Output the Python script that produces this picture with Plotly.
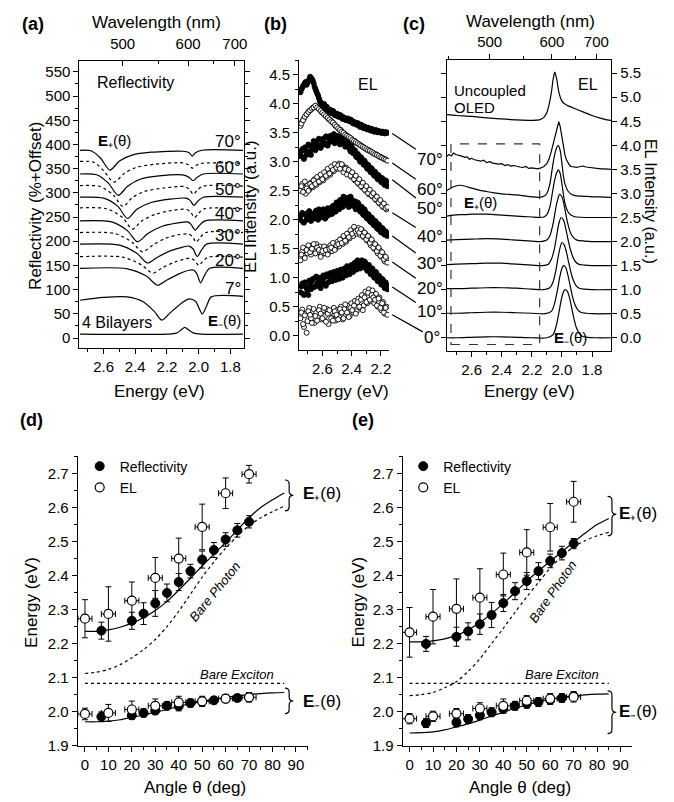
import plotly.graph_objects as go

# ======================= DATA =======================
# ---- panel (a): reflectivity spectra (energy eV, reflectivity %+offset) ----
refl_label_angles = [70, 60, 50, 40, 30, 20, 7]
r70_E = [2.75, 2.68, 2.62, 2.56, 2.50, 2.42, 2.30, 2.10, 2.06, 2.04, 2.02, 1.98, 1.72]
r70_R = [388, 387, 372, 347, 366, 378, 384, 386, 383, 376, 383, 388, 388]
r65_E = [2.75, 2.66, 2.60, 2.535, 2.47, 2.40, 2.28, 2.10, 2.065, 2.04, 2.015, 1.98, 1.72]
r65_R = [365, 363, 346, 322, 340, 352, 359, 362, 358, 351, 357, 361, 361]
r60_E = [2.75, 2.64, 2.57, 2.508, 2.45, 2.37, 2.25, 2.10, 2.065, 2.034, 2.01, 1.97, 1.72]
r60_R = [339, 337, 320, 295, 313, 328, 335, 337, 333, 325, 332, 339, 339]
r55_E = [2.75, 2.62, 2.54, 2.478, 2.42, 2.34, 2.22, 2.09, 2.06, 2.033, 2.008, 1.97, 1.72]
r55_R = [315, 313, 296, 272, 290, 303, 310, 313, 308, 297, 306, 314, 314]
r50_E = [2.75, 2.60, 2.51, 2.449, 2.39, 2.30, 2.18, 2.08, 2.055, 2.03, 2.005, 1.97, 1.72]
r50_R = [291, 289, 272, 247, 266, 280, 287, 289, 285, 274, 283, 291, 291]
r45_E = [2.75, 2.58, 2.48, 2.418, 2.36, 2.27, 2.16, 2.08, 2.052, 2.026, 2.0, 1.965, 1.72]
r45_R = [269, 267, 249, 225, 242, 256, 264, 266, 261, 249, 258, 267, 267]
r40_E = [2.75, 2.55, 2.45, 2.386, 2.32, 2.23, 2.13, 2.07, 2.048, 2.022, 1.997, 1.96, 1.72]
r40_R = [242, 240, 222, 199, 216, 231, 238, 240, 235, 223, 232, 242, 242]
r35_E = [2.75, 2.53, 2.42, 2.355, 2.29, 2.21, 2.12, 2.065, 2.04, 2.015, 1.99, 1.955, 1.72]
r35_R = [218, 216, 198, 178, 192, 206, 214, 215, 210, 198, 208, 218, 218]
r30_E = [2.75, 2.50, 2.39, 2.323, 2.26, 2.18, 2.10, 2.06, 2.035, 2.009, 1.985, 1.95, 1.72]
r30_R = [194, 192, 175, 155, 167, 180, 188, 190, 184, 168, 180, 194, 194]
r25_E = [2.75, 2.48, 2.36, 2.29, 2.23, 2.15, 2.08, 2.05, 2.025, 1.999, 1.975, 1.94, 1.72]
r25_R = [168, 167, 151, 134, 145, 157, 164, 165, 160, 150, 158, 167, 167]
r20_E = [2.75, 2.45, 2.33, 2.26, 2.20, 2.12, 2.06, 2.03, 2.01, 1.988, 1.965, 1.93, 1.72]
r20_R = [144, 143, 128, 109, 120, 133, 140, 140, 132, 114, 128, 144, 144]
r7_E = [2.75, 2.60, 2.45, 2.35, 2.28, 2.232, 2.18, 2.10, 2.06, 2.02, 1.977, 1.95, 1.92, 1.72]
r7_R = [78, 84, 85, 75, 55, 37, 52, 74, 81, 76, 50, 66, 85, 86]
bare_E = [2.75, 2.20, 2.14, 2.11, 2.087, 2.065, 2.03, 1.98, 1.72]
bare_R = [8, 8, 10, 17, 22, 17, 10, 8, 8]

wavelength_ticks = [500, 600, 700]
wavelength_minor = [450, 550, 650]

# ---- panel (b): EL intensity, noisy spectra (two interleaved sample rows) ----
b_energy = [2.750, 2.738, 2.726, 2.714, 2.702, 2.690, 2.678, 2.666, 2.654, 2.642,
            2.630, 2.618, 2.606, 2.594, 2.582, 2.570, 2.558, 2.546, 2.534, 2.522,
            2.510, 2.498, 2.486, 2.474, 2.462, 2.450, 2.438, 2.426, 2.414, 2.402,
            2.390, 2.378, 2.366, 2.354, 2.342, 2.330, 2.318, 2.306, 2.294, 2.282,
            2.270, 2.258, 2.246, 2.234, 2.222, 2.210, 2.198, 2.186, 2.174, 2.162]
b_energy2 = [2.744, 2.732, 2.720, 2.708, 2.696, 2.684, 2.672, 2.660, 2.648, 2.636,
             2.624, 2.612, 2.600, 2.588, 2.576, 2.564, 2.552, 2.540, 2.528, 2.516,
             2.504, 2.492, 2.480, 2.468, 2.456, 2.444, 2.432, 2.420, 2.408, 2.396,
             2.384, 2.372, 2.360, 2.348, 2.336, 2.324, 2.312, 2.300, 2.288, 2.276,
             2.264, 2.252, 2.240, 2.228, 2.216, 2.204, 2.192, 2.180, 2.168, 2.156]
b70 = [4.20, 4.28, 4.33, 4.38, 4.36, 4.42, 4.45, 4.40, 4.30, 4.22,
       4.15, 4.05, 4.00, 3.98, 3.93, 3.95, 3.88, 3.90, 3.85, 3.86,
       3.80, 3.83, 3.78, 3.80, 3.74, 3.76, 3.72, 3.75, 3.70, 3.72,
       3.66, 3.68, 3.64, 3.66, 3.60, 3.63, 3.58, 3.60, 3.56, 3.58,
       3.54, 3.56, 3.52, 3.55, 3.51, 3.53, 3.50, 3.52, 3.49, 3.51]
b70_2 = [4.25, 4.31, 4.36, 4.33, 4.40, 4.47, 4.43, 4.36, 4.26, 4.18,
         4.10, 4.03, 3.97, 4.00, 3.91, 3.90, 3.86, 3.84, 3.88, 3.81,
         3.82, 3.78, 3.81, 3.76, 3.77, 3.73, 3.74, 3.71, 3.73, 3.68,
         3.69, 3.65, 3.67, 3.62, 3.64, 3.60, 3.61, 3.57, 3.59, 3.55,
         3.57, 3.53, 3.54, 3.52, 3.53, 3.51, 3.52, 3.50, 3.51, 3.50]
b60 = [3.62, 3.70, 3.75, 3.80, 3.84, 3.88, 3.90, 3.93, 3.95, 3.96,
       3.93, 3.90, 3.86, 3.84, 3.80, 3.78, 3.74, 3.72, 3.69, 3.66,
       3.62, 3.60, 3.56, 3.55, 3.50, 3.49, 3.46, 3.44, 3.42, 3.40,
       3.37, 3.36, 3.33, 3.31, 3.29, 3.27, 3.25, 3.23, 3.21, 3.20,
       3.18, 3.16, 3.14, 3.13, 3.11, 3.09, 3.08, 3.06, 3.05, 3.03]
b60_2 = [3.66, 3.72, 3.78, 3.82, 3.86, 3.89, 3.92, 3.94, 3.97, 3.94,
         3.91, 3.88, 3.85, 3.82, 3.79, 3.76, 3.73, 3.70, 3.68, 3.64,
         3.61, 3.58, 3.55, 3.52, 3.50, 3.47, 3.45, 3.43, 3.41, 3.38,
         3.36, 3.34, 3.32, 3.30, 3.28, 3.26, 3.24, 3.22, 3.20, 3.19,
         3.17, 3.15, 3.13, 3.12, 3.10, 3.08, 3.07, 3.05, 3.04, 3.02]
b50 = [3.10, 3.22, 3.05, 3.20, 3.15, 3.28, 3.12, 3.30, 3.22, 3.35,
       3.25, 3.38, 3.28, 3.40, 3.30, 3.42, 3.33, 3.45, 3.35, 3.48,
       3.38, 3.45, 3.36, 3.44, 3.33, 3.40, 3.28, 3.35, 3.22, 3.28,
       3.15, 3.20, 3.08, 3.12, 3.00, 3.05, 2.95, 2.98, 2.88, 2.92,
       2.82, 2.86, 2.76, 2.80, 2.70, 2.74, 2.65, 2.70, 2.60, 2.66]
b50_2 = [3.18, 3.08, 3.25, 3.12, 3.30, 3.18, 3.26, 3.36, 3.20, 3.30,
         3.40, 3.24, 3.36, 3.32, 3.44, 3.28, 3.40, 3.38, 3.46, 3.32,
         3.42, 3.40, 3.30, 3.38, 3.36, 3.26, 3.32, 3.30, 3.18, 3.24,
         3.18, 3.10, 3.14, 3.04, 3.08, 2.98, 3.02, 2.92, 2.95, 2.85,
         2.89, 2.79, 2.83, 2.73, 2.77, 2.68, 2.72, 2.62, 2.68, 2.58]
b40 = [2.50, 2.62, 2.55, 2.45, 2.60, 2.52, 2.64, 2.56, 2.70, 2.60,
       2.72, 2.65, 2.75, 2.68, 2.80, 2.74, 2.85, 2.78, 2.90, 2.84,
       2.95, 2.88, 2.97, 2.90, 2.94, 2.86, 2.90, 2.80, 2.84, 2.74,
       2.78, 2.68, 2.72, 2.62, 2.66, 2.56, 2.60, 2.50, 2.54, 2.44,
       2.48, 2.40, 2.42, 2.34, 2.36, 2.28, 2.30, 2.22, 2.24, 2.18]
b40_2 = [2.58, 2.48, 2.66, 2.54, 2.50, 2.62, 2.58, 2.68, 2.62, 2.74,
         2.66, 2.78, 2.70, 2.82, 2.76, 2.88, 2.80, 2.92, 2.86, 2.96,
         2.90, 2.94, 2.88, 2.96, 2.82, 2.88, 2.78, 2.86, 2.76, 2.82,
         2.70, 2.76, 2.64, 2.70, 2.58, 2.64, 2.52, 2.58, 2.46, 2.52,
         2.42, 2.46, 2.36, 2.40, 2.30, 2.34, 2.24, 2.28, 2.20, 2.22]
b30 = [2.00, 2.12, 1.95, 2.08, 2.02, 2.15, 1.98, 2.10, 2.04, 2.16,
       2.00, 2.12, 2.06, 2.18, 2.02, 2.14, 2.08, 2.20, 2.10, 2.24,
       2.14, 2.28, 2.18, 2.32, 2.22, 2.36, 2.26, 2.38, 2.28, 2.36,
       2.24, 2.32, 2.20, 2.28, 2.14, 2.22, 2.08, 2.14, 2.02, 2.08,
       1.96, 2.02, 1.90, 1.96, 1.84, 1.90, 1.78, 1.84, 1.74, 1.78]
b30_2 = [2.08, 1.96, 2.10, 2.00, 2.12, 2.04, 2.08, 2.02, 2.14, 2.06,
         2.18, 2.04, 2.16, 2.10, 2.04, 2.20, 2.12, 2.16, 2.24, 2.18,
         2.30, 2.20, 2.34, 2.24, 2.40, 2.30, 2.34, 2.22, 2.40, 2.30,
         2.28, 2.18, 2.30, 2.24, 2.18, 2.10, 2.18, 2.04, 2.10, 1.98,
         2.04, 1.92, 1.98, 1.86, 1.92, 1.80, 1.86, 1.76, 1.80, 1.72]
b20 = [1.30, 1.45, 1.38, 1.50, 1.42, 1.55, 1.40, 1.52, 1.46, 1.58,
       1.44, 1.54, 1.40, 1.50, 1.42, 1.52, 1.44, 1.56, 1.46, 1.58,
       1.50, 1.62, 1.54, 1.66, 1.58, 1.70, 1.62, 1.74, 1.68, 1.80,
       1.72, 1.84, 1.76, 1.86, 1.74, 1.82, 1.70, 1.76, 1.64, 1.70,
       1.56, 1.62, 1.50, 1.56, 1.42, 1.48, 1.36, 1.40, 1.28, 1.32]
b20_2 = [1.40, 1.52, 1.34, 1.48, 1.56, 1.44, 1.50, 1.58, 1.42, 1.52,
         1.48, 1.36, 1.46, 1.54, 1.48, 1.40, 1.50, 1.52, 1.60, 1.48,
         1.56, 1.58, 1.66, 1.60, 1.72, 1.64, 1.76, 1.70, 1.82, 1.76,
         1.88, 1.80, 1.82, 1.78, 1.84, 1.72, 1.78, 1.66, 1.72, 1.60,
         1.66, 1.52, 1.58, 1.46, 1.52, 1.38, 1.44, 1.32, 1.36, 1.26]
b10 = [0.75, 0.90, 0.70, 0.85, 0.78, 0.95, 0.80, 0.98, 0.84, 1.02,
       0.86, 1.00, 0.88, 1.04, 0.90, 1.06, 0.92, 1.08, 0.94, 1.10,
       0.96, 1.12, 0.98, 1.14, 1.00, 1.16, 1.04, 1.18, 1.06, 1.22,
       1.10, 1.26, 1.14, 1.28, 1.16, 1.30, 1.18, 1.26, 1.12, 1.22,
       1.06, 1.16, 1.00, 1.10, 0.94, 1.02, 0.88, 0.96, 0.82, 0.88]
b10_2 = [0.85, 0.72, 0.92, 0.82, 0.70, 0.88, 0.94, 0.84, 1.00, 0.90,
         0.96, 0.82, 0.96, 1.00, 0.86, 1.02, 1.04, 0.96, 1.06, 1.00,
         1.08, 1.04, 1.10, 1.02, 1.12, 1.10, 1.20, 1.08, 1.16, 1.14,
         1.24, 1.20, 1.30, 1.20, 1.24, 1.22, 1.28, 1.16, 1.20, 1.10,
         1.14, 1.04, 1.08, 0.98, 1.04, 0.92, 0.98, 0.86, 0.92, 0.80]
b0 = [0.30, 0.45, 0.15, 0.38, 0.25, 0.48, 0.30, 0.42, 0.22, 0.40,
      0.32, 0.50, 0.28, 0.44, 0.34, 0.46, 0.20, 0.40, 0.30, 0.48,
      0.26, 0.44, 0.32, 0.50, 0.28, 0.46, 0.36, 0.52, 0.34, 0.56,
      0.40, 0.60, 0.42, 0.64, 0.48, 0.70, 0.52, 0.76, 0.56, 0.80,
      0.60, 0.78, 0.56, 0.72, 0.50, 0.66, 0.44, 0.58, 0.38, 0.50]
b0_2 = [0.40, 0.20, 0.35, 0.05, 0.42, 0.36, 0.22, 0.46, 0.34, 0.26,
        0.44, 0.38, 0.30, 0.48, 0.24, 0.38, 0.44, 0.30, 0.26, 0.42,
        0.36, 0.28, 0.46, 0.40, 0.30, 0.54, 0.40, 0.32, 0.48, 0.44,
        0.52, 0.38, 0.58, 0.50, 0.62, 0.44, 0.66, 0.58, 0.74, 0.62,
        0.70, 0.66, 0.62, 0.52, 0.64, 0.48, 0.56, 0.40, 0.48, 0.36]
b_angles = [0, 10, 20, 30, 40, 50, 60, 70]
b_line_start = [0.36, 0.84, 1.27, 1.72, 2.12, 2.69, 2.98, 3.49]

# ---- panel (c): EL spectra (offset) ----
unc_E = [2.765, 2.70, 2.60, 2.50, 2.40, 2.30, 2.20, 2.15, 2.12, 2.10,
         2.085, 2.07, 2.058, 2.047, 2.035, 2.02, 2.005, 1.99, 1.97, 1.95,
         1.92, 1.88, 1.84, 1.80, 1.75, 1.70, 1.672]
unc_I = [4.64, 4.62, 4.60, 4.57, 4.55, 4.53, 4.52, 4.53, 4.58, 4.68,
         4.85, 5.10, 5.38, 5.52, 5.38, 5.10, 4.95, 4.88, 4.84, 4.81,
         4.77, 4.72, 4.67, 4.62, 4.57, 4.53, 4.52]
c70_E = [2.765, 2.75, 2.735, 2.72, 2.705, 2.69, 2.675, 2.66, 2.645, 2.63,
         2.615, 2.60, 2.58, 2.56, 2.54, 2.52, 2.50, 2.48, 2.46, 2.44,
         2.42, 2.40, 2.38, 2.36, 2.34, 2.32, 2.30, 2.28, 2.26, 2.24,
         2.22, 2.20, 2.18, 2.16, 2.14, 2.12, 2.10, 2.085, 2.07, 2.055,
         2.04, 2.03, 2.021, 2.012, 2.0, 1.99, 1.98, 1.97, 1.96, 1.95,
         1.94, 1.92, 1.90, 1.88, 1.86, 1.84, 1.82, 1.80, 1.78, 1.76,
         1.74, 1.72, 1.70, 1.672]
c70_I = [3.77, 3.81, 3.78, 3.84, 3.81, 3.80, 3.78, 3.77, 3.75, 3.76,
         3.71, 3.73, 3.70, 3.69, 3.67, 3.69, 3.64, 3.66, 3.63, 3.62,
         3.61, 3.62, 3.58, 3.60, 3.57, 3.58, 3.56, 3.55, 3.54, 3.56,
         3.52, 3.53, 3.52, 3.51, 3.53, 3.56, 3.62, 3.72, 3.88, 4.08,
         4.28, 4.42, 4.49, 4.40, 4.15, 3.95, 3.80, 3.70, 3.63, 3.59,
         3.56, 3.55, 3.54, 3.56, 3.57, 3.55, 3.54, 3.53, 3.52, 3.52,
         3.51, 3.51, 3.50, 3.50]
c_hi_E = [2.765, 2.72, 2.68, 2.64, 2.60, 2.55, 2.50, 2.45, 2.40, 2.35,
          2.30, 2.25, 2.20, 2.15, 2.12, 2.10, 2.08, 2.065, 2.05, 2.035,
          2.024, 2.012, 2.0, 1.99, 1.98, 1.96, 1.94, 1.92, 1.90, 1.85,
          1.80, 1.75, 1.672]
c60_I = [3.06, 3.14, 3.17, 3.15, 3.11, 3.07, 3.04, 3.01, 2.99, 2.98,
         2.97, 2.95, 2.93, 2.92, 2.94, 3.00, 3.20, 3.50, 3.78, 3.95,
         4.00, 3.90, 3.62, 3.36, 3.20, 3.05, 2.99, 2.96, 2.95, 2.94,
         2.93, 2.93, 2.92]
c50_I = [2.53, 2.55, 2.56, 2.56, 2.57, 2.57, 2.57, 2.56, 2.55, 2.54,
         2.53, 2.52, 2.51, 2.50, 2.51, 2.56, 2.72, 2.98, 3.25, 3.43,
         3.49, 3.42, 3.20, 2.98, 2.80, 2.62, 2.55, 2.52, 2.51, 2.50,
         2.50, 2.50, 2.50]
c40_E = [2.765, 2.70, 2.60, 2.50, 2.40, 2.30, 2.20, 2.14, 2.10, 2.08, 2.06, 2.045,
         2.03, 2.015, 2.0, 1.985, 1.97, 1.955, 1.94, 1.92, 1.90, 1.85, 1.80, 1.672]
c40_I = [2.03, 2.04, 2.05, 2.06, 2.05, 2.03, 2.01, 2.00, 2.03, 2.12, 2.35, 2.62,
         2.85, 2.98, 2.93, 2.75, 2.50, 2.30, 2.16, 2.07, 2.03, 2.01, 2.00, 2.00]
c30_E = [2.765, 2.70, 2.60, 2.50, 2.40, 2.30, 2.20, 2.13, 2.09, 2.07, 2.05, 2.035,
         2.02, 2.005, 1.99, 1.975, 1.96, 1.945, 1.93, 1.91, 1.89, 1.85, 1.80, 1.672]
c30_I = [1.52, 1.53, 1.54, 1.55, 1.55, 1.53, 1.51, 1.50, 1.53, 1.63, 1.85, 2.12,
         2.38, 2.50, 2.45, 2.28, 2.05, 1.85, 1.70, 1.58, 1.53, 1.51, 1.50, 1.50]
c20_E = [2.765, 2.70, 2.60, 2.50, 2.40, 2.30, 2.20, 2.12, 2.08, 2.06, 2.04, 2.025,
         2.01, 2.0, 1.985, 1.97, 1.955, 1.94, 1.925, 1.905, 1.885, 1.85, 1.80, 1.672]
c20_I = [1.02, 1.02, 1.03, 1.04, 1.04, 1.03, 1.01, 1.00, 1.04, 1.15, 1.40, 1.68,
         1.90, 1.98, 1.93, 1.78, 1.56, 1.36, 1.20, 1.08, 1.03, 1.01, 1.00, 1.00]
c10_E = [2.765, 2.70, 2.60, 2.50, 2.40, 2.30, 2.20, 2.11, 2.07, 2.05, 2.03, 2.015,
         2.0, 1.99, 1.975, 1.96, 1.945, 1.93, 1.915, 1.895, 1.875, 1.84, 1.80, 1.672]
c10_I = [0.51, 0.51, 0.52, 0.53, 0.53, 0.52, 0.51, 0.50, 0.55, 0.70, 0.98, 1.25,
         1.44, 1.50, 1.46, 1.30, 1.08, 0.86, 0.70, 0.58, 0.53, 0.51, 0.50, 0.50]
c0_E = [2.765, 2.70, 2.60, 2.50, 2.40, 2.30, 2.20, 2.10, 2.06, 2.04, 2.02, 2.005,
        1.99, 1.98, 1.965, 1.95, 1.935, 1.92, 1.905, 1.885, 1.865, 1.83, 1.78, 1.672]
c0_I = [0.00, 0.00, 0.01, 0.02, 0.02, 0.01, 0.00, 0.00, 0.06, 0.22, 0.52, 0.78,
        0.95, 1.00, 0.97, 0.84, 0.62, 0.40, 0.22, 0.09, 0.03, 0.01, 0.00, 0.00]
c_box_E = [2.737, 2.148]
c_box_I = [-0.14, 4.03]

# ---- panels (d), (e): dispersion ----
refl_angles = [7, 20, 25, 30, 35, 40, 45, 50, 55, 60, 65, 70]
el_angles = [0, 10, 20, 30, 40, 50, 60, 70]
el_angle_err = [3, 3, 3, 3, 3, 3, 3, 3]
fit_angles = [0, 5, 10, 15, 20, 25, 30, 35, 40, 45, 50, 55, 60, 65, 70, 75, 80, 85]
exciton_angles = [0, 85]

d_refl_up = [2.238, 2.267, 2.288, 2.318, 2.349, 2.381, 2.413, 2.447, 2.475, 2.506, 2.533, 2.558]
d_refl_up_err = [0.025, 0.025, 0.032, 0.038, 0.026, 0.025, 0.020, 0.025, 0.022, 0.020, 0.020, 0.018]
d_refl_lo = [1.985, 1.989, 1.996, 2.003, 2.017, 2.016, 2.025, 2.030, 2.033, 2.038, 2.040, 2.043]
d_refl_lo_err = [0.014, 0.012, 0.012, 0.012, 0.012, 0.014, 0.012, 0.012, 0.010, 0.010, 0.010, 0.012]
d_el_up = [2.273, 2.287, 2.326, 2.393, 2.450, 2.543, 2.642, 2.698]
d_el_up_err = [0.056, 0.080, 0.055, 0.060, 0.060, 0.067, 0.045, 0.026]
d_el_lo = [1.993, 1.996, 2.006, 2.017, 2.027, 2.030, 2.038, 2.042]
d_el_lo_err = [0.017, 0.025, 0.025, 0.020, 0.018, 0.015, 0.012, 0.014]
d_fit_up = [2.236, 2.236, 2.240, 2.248, 2.260, 2.276, 2.297, 2.324, 2.357, 2.392,
            2.428, 2.463, 2.497, 2.534, 2.570, 2.600, 2.623, 2.643]
d_fit_lo = [1.970, 1.970, 1.972, 1.976, 1.983, 1.990, 1.998, 2.006, 2.015, 2.023,
            2.030, 2.036, 2.042, 2.046, 2.050, 2.053, 2.055, 2.056]
d_photon = [2.112, 2.116, 2.124, 2.138, 2.158, 2.182, 2.212, 2.250, 2.295, 2.345,
            2.395, 2.440, 2.480, 2.516, 2.547, 2.570, 2.588, 2.604]
d_exciton = [2.083, 2.083]

e_refl_up = [2.199, 2.220, 2.236, 2.257, 2.284, 2.319, 2.354, 2.384, 2.413, 2.443, 2.466, 2.494]
e_refl_up_err = [0.022, 0.028, 0.025, 0.030, 0.037, 0.025, 0.025, 0.025, 0.025, 0.020, 0.020, 0.015]
e_refl_lo = [1.966, 1.968, 1.978, 1.989, 1.998, 2.008, 2.017, 2.023, 2.028, 2.034, 2.040, 2.045]
e_refl_lo_err = [0.013, 0.013, 0.013, 0.013, 0.013, 0.013, 0.013, 0.013, 0.013, 0.013, 0.013, 0.013]
e_el_up = [2.233, 2.279, 2.302, 2.335, 2.403, 2.468, 2.542, 2.617]
e_el_up_err = [0.073, 0.080, 0.088, 0.085, 0.063, 0.067, 0.070, 0.060]
e_el_lo = [1.979, 1.986, 1.994, 2.009, 2.017, 2.032, 2.038, 2.043]
e_el_lo_err = [0.015, 0.015, 0.015, 0.017, 0.020, 0.015, 0.015, 0.015]
e_fit_up = [2.205, 2.205, 2.208, 2.214, 2.224, 2.240, 2.262, 2.288, 2.318, 2.350,
            2.383, 2.414, 2.442, 2.470, 2.498, 2.525, 2.550, 2.568]
e_fit_lo = [1.937, 1.938, 1.940, 1.946, 1.955, 1.964, 1.975, 1.987, 1.998, 2.010,
            2.020, 2.029, 2.036, 2.042, 2.046, 2.049, 2.051, 2.052]
e_photon = [2.047, 2.050, 2.056, 2.070, 2.088, 2.118, 2.155, 2.200, 2.245, 2.292,
            2.337, 2.380, 2.422, 2.457, 2.484, 2.503, 2.517, 2.527]
e_exciton = [2.083, 2.083]

# brace spans (angle range, [top, tip, bottom] energies)
d_brace_x = [85.3, 88.9]
d_brace_up = [2.681, 2.636, 2.590]
d_brace_lo = [2.069, 2.031, 1.994]
e_brace_x = [84.5, 88.2]
e_brace_up = [2.633, 2.580, 2.517]
e_brace_lo = [2.061, 1.998, 1.935]

# ======================= LAYOUT HELPERS =======================
W, H = 674, 802
FONT = "Liberation Sans, Arial, Helvetica, sans-serif"
HC = 1239.84


def xdom(a, b):
    return [a / W, b / W]


def ydom(top, bottom):
    return [1 - bottom / H, 1 - top / H]


def px(x):
    return x / W


def py(y):
    return 1 - y / H


fig = go.Figure()
LW = 1.2


def line_trace(x, y, xa, ya, dash="solid", shape="spline", width=LW):
    return go.Scatter(x=x, y=y, mode="lines", xaxis=xa, yaxis=ya,
                      line=dict(color="black", width=width, dash=dash, shape=shape, smoothing=0.8),
                      showlegend=False, hoverinfo="skip")


# ---- (a)
refl_series = [(70, r70_E, r70_R), (65, r65_E, r65_R), (60, r60_E, r60_R), (55, r55_E, r55_R),
               (50, r50_E, r50_R), (45, r45_E, r45_R), (40, r40_E, r40_R), (35, r35_E, r35_R),
               (30, r30_E, r30_R), (25, r25_E, r25_R), (20, r20_E, r20_R), (7, r7_E, r7_R)]
for ang, E, R in refl_series:
    dash = "solid" if ang in refl_label_angles else "dot"
    fig.add_trace(line_trace(E, R, "x", "y", dash=dash))
fig.add_trace(line_trace(bare_E, bare_R, "x", "y"))
fig.add_trace(go.Scatter(x=[2.0], y=[None], xaxis="x6", yaxis="y", showlegend=False, hoverinfo="skip"))

# ---- (b)
b_series = [(b0, b0_2), (b10, b10_2), (b20, b20_2), (b30, b30_2),
            (b40, b40_2), (b50, b50_2), (b60, b60_2), (b70, b70_2)]
for i, (v1, v2) in enumerate(b_series):
    filled = (i % 2 == 1)
    fig.add_trace(go.Scatter(
        x=b_energy + b_energy2, y=v1 + v2, mode="markers", xaxis="x2", yaxis="y2",
        showlegend=False, hoverinfo="skip",
        marker=dict(symbol="circle", size=5, color="black" if filled else "white",
                    line=dict(color="black", width=0.9))))

# ---- (c)
fig.add_trace(line_trace(unc_E, unc_I, "x3", "y3"))
fig.add_trace(line_trace(c70_E, c70_I, "x3", "y3", shape="linear"))
for E, I in [(c_hi_E, c60_I), (c_hi_E, c50_I), (c40_E, c40_I), (c30_E, c30_I),
             (c20_E, c20_I), (c10_E, c10_I), (c0_E, c0_I)]:
    fig.add_trace(line_trace(E, I, "x3", "y3"))
fig.add_trace(go.Scatter(x=[2.0], y=[None], xaxis="x7", yaxis="y3", showlegend=False, hoverinfo="skip"))


# ---- (d), (e)
def dispersion(xa, ya, legend, r_up, r_up_e, r_lo, r_lo_e, e_up, e_up_e, e_lo, e_lo_e,
               f_up, f_lo, photon, exciton):
    fig.add_trace(line_trace(fit_angles, f_up, xa, ya))
    fig.add_trace(line_trace(fit_angles, f_lo, xa, ya))
    fig.add_trace(line_trace(fit_angles, photon, xa, ya, dash="dot"))
    fig.add_trace(line_trace(exciton_angles, exciton, xa, ya, dash="dot", shape="linear"))
    ey = dict(type="data", color="black", thickness=1, width=3)
    for k, (vals, err) in enumerate([(r_up, r_up_e), (r_lo, r_lo_e)]):
        fig.add_trace(go.Scatter(
            x=refl_angles, y=vals, mode="markers", xaxis=xa, yaxis=ya, legend=legend,
            name="Reflectivity", showlegend=(k == 0), hoverinfo="skip",
            error_y=dict(array=err, **ey),
            marker=dict(symbol="circle", size=9, color="black", line=dict(color="black", width=1))))
    for k, (vals, err) in enumerate([(e_up, e_up_e), (e_lo, e_lo_e)]):
        fig.add_trace(go.Scatter(
            x=el_angles, y=vals, mode="markers", xaxis=xa, yaxis=ya, legend=legend,
            name="EL", showlegend=(k == 0), hoverinfo="skip",
            error_y=dict(array=err, **ey),
            error_x=dict(array=el_angle_err, **ey),
            marker=dict(symbol="circle", size=9, color="white", line=dict(color="black", width=1.2))))


dispersion("x4", "y4", "legend", d_refl_up, d_refl_up_err, d_refl_lo, d_refl_lo_err,
           d_el_up, d_el_up_err, d_el_lo, d_el_lo_err, d_fit_up, d_fit_lo, d_photon, d_exciton)
dispersion("x5", "y5", "legend2", e_refl_up, e_refl_up_err, e_refl_lo, e_refl_lo_err,
           e_el_up, e_el_up_err, e_el_lo, e_el_lo_err, e_fit_up, e_fit_lo, e_photon, e_exciton)

# ======================= AXES =======================
TICKF = dict(family=FONT, size=15, color="black")


def axis(**kw):
    base = dict(showline=True, linecolor="black", linewidth=1, ticks="outside", ticklen=5,
                tickwidth=1, tickcolor="black", showgrid=False, zeroline=False,
                tickfont=TICKF)
    base.update(kw)
    return base


minor_e = dict(tickvals=[2.7, 2.5, 2.3, 2.1, 1.9], ticklen=3, ticks="outside", tickcolor="black")
e_ticks = [2.6, 2.4, 2.2, 2.0, 1.8]

A_X = (71.7, 237.3)
A_Y = (53.3, 343.3)
B_X = (292.3, 382.7)
B_Y = (53.0, 345.0)
C_X = (440.7, 606.0)
C_Y = (52.7, 346.7)
D_X = (70.0, 301.7)
E_X = (396.3, 626.3)
DE_Y = (452.7, 745.0)

a_xrange = [2.753, 1.712]
b_xrange = [2.76, 2.145]
b_yrange = [-0.24, 4.75]
c_xrange = [2.765, 1.672]

wl_vals = [HC / w for w in wavelength_ticks]
wl_minor = [HC / w for w in wavelength_minor]

fig.update_layout(
    xaxis=axis(domain=xdom(*A_X), range=a_xrange, anchor="y", tickvals=e_ticks, tickformat=".1f",
               mirror=True, minor=minor_e),
    yaxis=axis(domain=ydom(*A_Y), range=[-20.4, 573], anchor="x", tickmode="linear", tick0=0, dtick=50,
               mirror="ticks", minor=dict(dtick=25, tick0=0, ticklen=3, ticks="outside", tickcolor="black")),
    xaxis6=axis(overlaying="x", side="top", anchor="y", range=a_xrange, tickvals=wl_vals,
                ticktext=[str(w) for w in wavelength_ticks], ticks="inside", showline=False,
                ticklabelstandoff=8,
                minor=dict(tickvals=wl_minor, ticklen=3, ticks="inside", tickcolor="black")),
    xaxis2=axis(domain=xdom(*B_X), range=b_xrange, anchor="y2", tickvals=[2.6, 2.4, 2.2], tickformat=".1f",
                minor=dict(tickvals=[2.7, 2.5, 2.3], ticklen=3, ticks="outside", tickcolor="black")),
    yaxis2=axis(domain=ydom(*B_Y), range=b_yrange, anchor="x2", tickmode="linear", tick0=0, dtick=0.5,
                tickformat=".1f", minor=dict(dtick=0.25, tick0=0, ticklen=3, ticks="outside", tickcolor="black")),
    xaxis3=axis(domain=xdom(*C_X), range=c_xrange, anchor="y3", tickvals=e_ticks, tickformat=".1f",
                mirror=True, minor=minor_e),
    yaxis3=axis(domain=ydom(*C_Y), range=[-0.28, 5.77], anchor="x3", side="right", tickmode="linear",
                tick0=0, dtick=0.5, tickformat=".1f", mirror="ticks"),
    xaxis7=axis(overlaying="x3", side="top", anchor="y3", range=c_xrange, tickvals=wl_vals,
                ticktext=[str(w) for w in wavelength_ticks], ticks="outside", showline=False,
                ticklabelstandoff=1,
                minor=dict(tickvals=wl_minor, ticklen=3, ticks="outside", tickcolor="black")),
    xaxis4=axis(domain=xdom(*D_X), range=[-3.1, 95.3], anchor="y4", tickmode="linear", tick0=0, dtick=10,
                minor=dict(dtick=5, tick0=0, ticklen=3, ticks="outside", tickcolor="black")),
    yaxis4=axis(domain=ydom(*DE_Y), range=[1.9, 2.751], anchor="x4", tickmode="linear", tick0=1.9, dtick=0.1,
                tickformat=".1f", minor=dict(dtick=0.05, tick0=1.9, ticklen=3, ticks="outside", tickcolor="black")),
    xaxis5=axis(domain=xdom(*E_X), range=[-3.0, 94.7], anchor="y5", tickmode="linear", tick0=0, dtick=10,
                minor=dict(dtick=5, tick0=0, ticklen=3, ticks="outside", tickcolor="black")),
    yaxis5=axis(domain=ydom(*DE_Y), range=[1.9, 2.751], anchor="x5", tickmode="linear", tick0=1.9, dtick=0.1,
                tickformat=".1f", minor=dict(dtick=0.05, tick0=1.9, ticklen=3, ticks="outside", tickcolor="black")),
)

# ======================= SHAPES =======================
shapes = [dict(type="rect", xref="x3", yref="y3", x0=c_box_E[0], x1=c_box_E[1], y0=c_box_I[0], y1=c_box_I[1],
               line=dict(color="#333", width=1.2, dash="dash"))]


def brace(xs, ys, xa, ya, d):
    x0, x1 = xs
    yt, yc, yb = ys
    xm = (x0 + x1) / 2
    p = (f"M {x0},{yt} Q {xm},{yt} {xm},{yt - d} L {xm},{yc + d} Q {xm},{yc} {x1},{yc} "
         f"Q {xm},{yc} {xm},{yc - d} L {xm},{yb + d} Q {xm},{yb} {x0},{yb}")
    return dict(type="path", path=p, xref=xa, yref=ya, line=dict(color="black", width=1.2))


shapes += [brace(d_brace_x, d_brace_up, "x4", "y4", 0.012), brace(d_brace_x, d_brace_lo, "x4", "y4", 0.012),
           brace(e_brace_x, e_brace_up, "x5", "y5", 0.012), brace(e_brace_x, e_brace_lo, "x5", "y5", 0.012)]

# ======================= ANNOTATIONS =======================
ann = []


def t(text, x, y, size=15, xanchor="center", yanchor="middle", **kw):
    ann.append(dict(text=text, x=px(x), y=py(y), xref="paper", yref="paper", showarrow=False,
                    font=dict(family=FONT, size=size, color="black"),
                    xanchor=xanchor, yanchor=yanchor, **kw))


EP = "<b>E</b>₊(θ)"
EM = "<b>E</b>₋(θ)"

# panel letters
for lab, x, y in [("(a)", 25, 16), ("(b)", 269, 16), ("(c)", 408, 16), ("(d)", 24, 416), ("(e)", 357, 416)]:
    t(f"<b>{lab}</b>", x, y, size=18)

# axis titles
t("Wavelength (nm)", 149, 15, size=17)
t("Wavelength (nm)", 525, 14, size=17)
t("Energy (eV)", 152, 387, size=17)
t("Energy (eV)", 337, 387, size=17)
t("Energy (eV)", 524, 387, size=17)
t("Reflectivity (%+Offset)", 27, 200, size=17, textangle=-90)
t("EL Intensity (a.u.)", 243, 200, size=17, textangle=-90)
t("EL Intensity (a.u.)", 646, 195, size=16, textangle=90)
t("Energy (eV)", 23, 600, size=17, textangle=-90)
t("Energy (eV)", 352, 600, size=17, textangle=-90)
t("Angle θ (deg)", 188, 787, size=17)
t("Angle θ (deg)", 514, 787, size=17)

# panel (a) texts
t("Reflectivity", 87, 75, size=16, xanchor="left")
t(EP, 88, 134, size=15, xanchor="left")
for ang, y in zip(refl_label_angles, [135, 160.7, 183.3, 207.3, 230, 255, 283.3]):
    t(f"{ang}°", 236, y, size=17, xanchor="right")
t("4 Bilayers", 72, 318, size=16, xanchor="left")
t(EM, 199, 316, size=15, xanchor="left")

# panel (b)
t("EL", 362, 77, size=16)

# panel (c)
t("Uncoupled", 446, 83, size=15, xanchor="left")
t("OLED", 446, 101, size=15, xanchor="left")
t("EL", 583, 77, size=16)
t(EP, 456, 196, size=15, xanchor="left")
t(EM, 546, 333, size=15, xanchor="left")

# (b) -> (c) angle labels with connector lines (anchored in paper space next to panel b)
b_label_y = [332.3, 306.7, 282.7, 257.7, 230.7, 202.7, 182.7, 152.3]
b_x_px = 386.0
for ang, v, ty in zip(b_angles, b_line_start, b_label_y):
    sy = B_Y[0] + (b_yrange[1] - v) / (b_yrange[1] - b_yrange[0]) * (B_Y[1] - B_Y[0])
    tx = 426 if ang == 0 else 424
    ann.append(dict(text=f"{ang}°", x=px(b_x_px), y=py(sy), xref="paper", yref="paper", showarrow=True,
                    arrowhead=0, arrowwidth=1.2, arrowcolor="black", standoff=0, startstandoff=0,
                    axref="pixel", ayref="pixel",
                    ax=tx - b_x_px, ay=ty - sy, font=dict(family=FONT, size=17, color="black")))

# panels (d), (e)
for (bp_x, bp_y, ang_deg, ex_x), off in [((55.5, 2.352, -51, 65), "4"), ((61.2, 2.352, -55, 65), "5")]:
    ann.append(dict(text="<i>Bare Photon</i>", x=bp_x, y=bp_y, xref="x" + off, yref="y" + off,
                    showarrow=False, textangle=ang_deg, font=dict(family=FONT, size=13, color="black")))
    ann.append(dict(text="<i>Bare Exciton</i>", x=ex_x, y=2.108, xref="x" + off, yref="y" + off,
                    showarrow=False, font=dict(family=FONT, size=13, color="black")))
t(EP, 294, 490, size=17, xanchor="left")
t(EM, 294, 700, size=17, xanchor="left")
t(EP, 612, 511, size=17, xanchor="left")
t(EM, 612, 711, size=17, xanchor="left")

LEG = dict(xanchor="left", yanchor="top", bgcolor="rgba(0,0,0,0)", borderwidth=0,
           font=dict(family=FONT, size=14, color="black"), itemwidth=30, tracegroupgap=0)

fig.update_layout(
    width=W, height=H, margin=dict(l=0, r=0, t=0, b=0), autosize=False,
    paper_bgcolor="white", plot_bgcolor="white",
    font=dict(family=FONT, size=15, color="black"),
    shapes=shapes, annotations=ann,
    legend=dict(x=px(72), y=py(447), **LEG),
    legend2=dict(x=px(397), y=py(447), **LEG),
)

fig.write_html("out.html")
